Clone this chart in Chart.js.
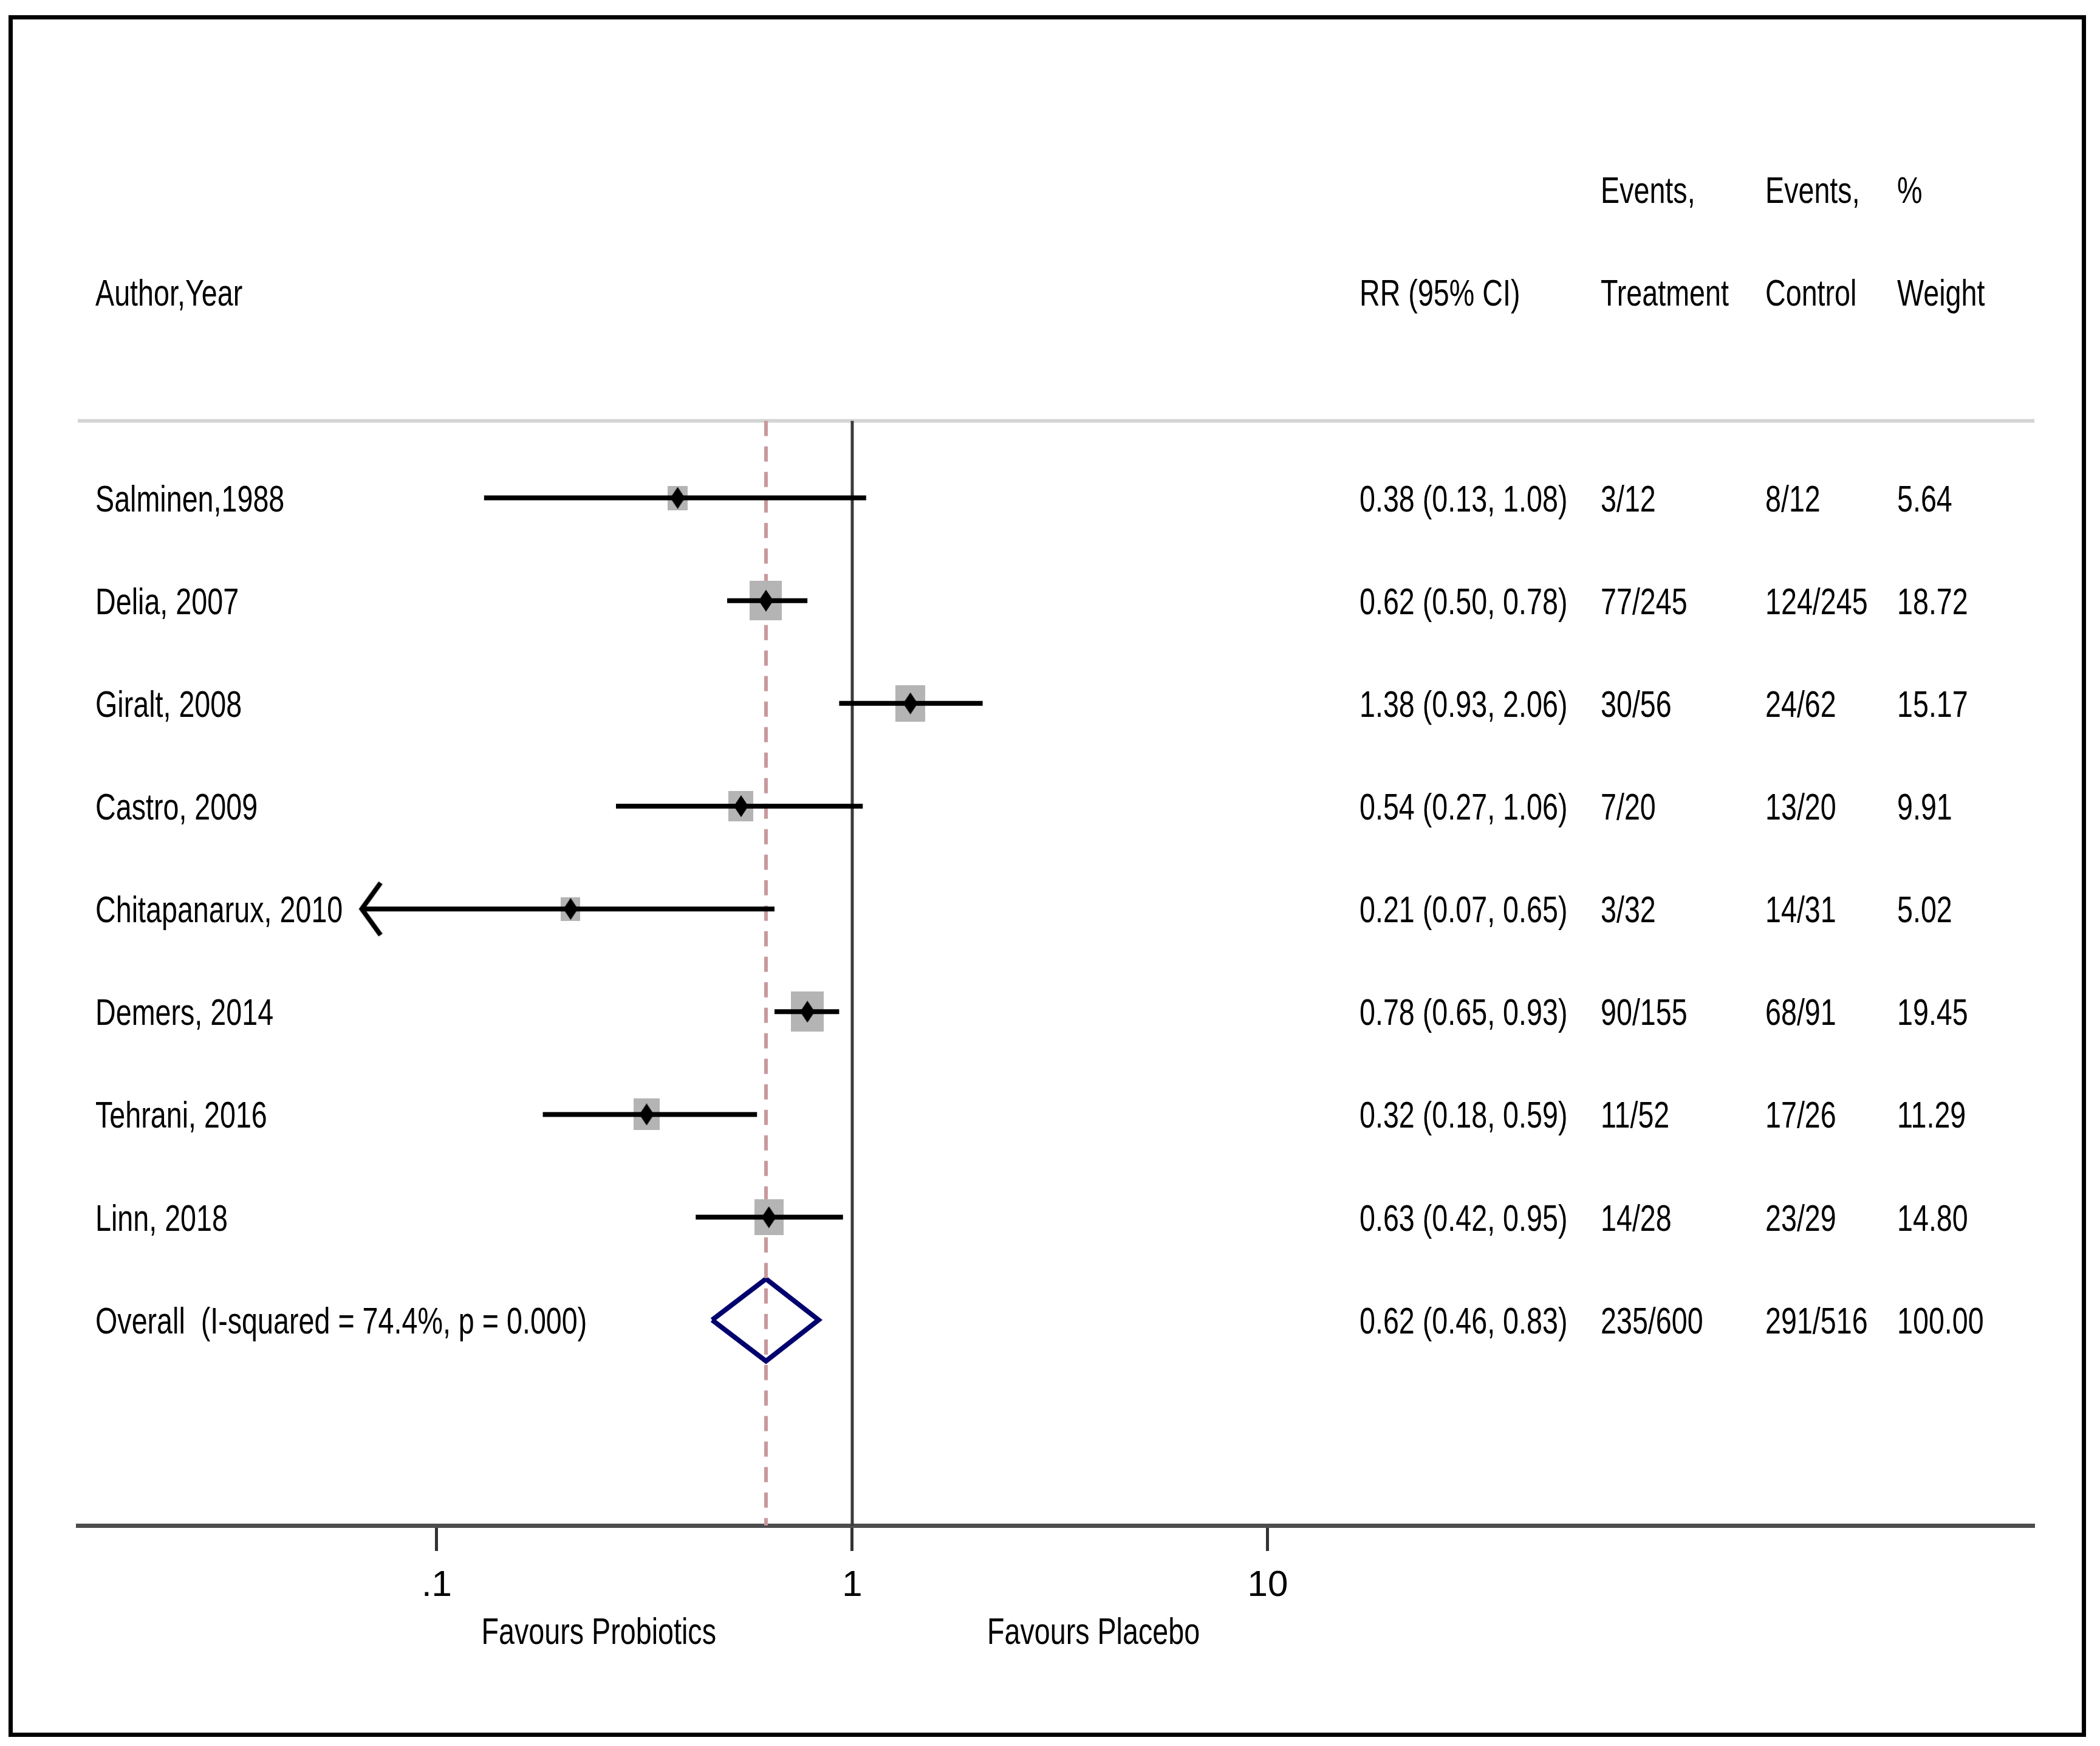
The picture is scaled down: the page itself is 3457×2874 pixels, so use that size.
<!DOCTYPE html>
<html>
<head>
<meta charset="utf-8">
<script src="https://cdn.jsdelivr.net/npm/chart.js@4.4.1/dist/chart.umd.min.js"></script>
<style>
  html, body { margin: 0; padding: 0; background: #fff; overflow: hidden; }
  #wrap { width: 3457px; height: 2874px; position: relative; }
</style>
</head>
<body>
<div id="wrap"><canvas id="forest"></canvas></div>
<script>
// study rows, top to bottom
const studies = ['Salminen,1988', 'Delia, 2007', 'Giralt, 2008', 'Castro, 2009',
    'Chitapanarux, 2010', 'Demers, 2014', 'Tehrani, 2016', 'Linn, 2018']
const rr = [0.38, 0.62, 1.38, 0.54, 0.21, 0.78, 0.32, 0.63]
const ciLow = [0.13, 0.50, 0.93, 0.27, 0.066, 0.65, 0.18, 0.42]
const ciHigh = [1.08, 0.78, 2.06, 1.06, 0.65, 0.93, 0.59, 0.95]
const eventsTreatment = ['3/12', '77/245', '30/56', '7/20', '3/32', '90/155', '11/52', '14/28']
const eventsControl = ['8/12', '124/245', '24/62', '13/20', '14/31', '68/91', '17/26', '23/29']
const weights = [5.64, 18.72, 15.17, 9.91, 5.02, 19.45, 11.29, 14.80]

// pooled estimate
const overallLabel = 'Overall  (I-squared = 74.4%, p = 0.000)'
const overallRR = 0.62
const overallLow = 0.46
const overallHigh = 0.83
const overallTreatment = '235/600'
const overallControl = '291/516'
const overallWeight = 100.00

// x axis
const xTicks = [0.1, 1, 10]
const xTickLabels = ['.1', '1', '10']
const xMin = 0.01368
const xMax = 699.8

const rows = studies.map((s, i) => i + 1)
const overallRow = studies.length + 1

const FONT = '"Liberation Sans", Arial, sans-serif'
const TICK_FONT = '"Liberation Sans Narrow", "Arial Narrow", "Liberation Sans", sans-serif'

// marker images (canvas point styles)
function boxImage(w) {
    const bw = Math.round(9.4 + 10.1 * Math.sqrt(w))
    const bh = Math.round(bw * 1.22)
    const c = document.createElement('canvas')
    c.width = bw
    c.height = bh
    const g = c.getContext('2d')
    g.fillStyle = '#b4b4b4'
    g.fillRect(0, 0, bw, bh)
    return c
}

function diamondImage() {
    const c = document.createElement('canvas')
    c.width = 24
    c.height = 36
    const g = c.getContext('2d')
    g.fillStyle = '#000'
    g.beginPath()
    g.moveTo(12, 0); g.lineTo(24, 18); g.lineTo(12, 36); g.lineTo(0, 18)
    g.closePath()
    g.fill()
    return c
}

function arrowImage() {
    // tip sits at the centre of the image
    const c = document.createElement('canvas')
    c.width = 84
    c.height = 104
    const g = c.getContext('2d')
    g.strokeStyle = '#000'
    g.lineWidth = 8
    g.beginPath()
    g.moveTo(42 + 31, 52 - 43); g.lineTo(42, 52); g.lineTo(42 + 31, 52 + 43)
    g.stroke()
    return c
}

const ciSets = studies.map((s, i) => ({
    type: 'line',
    data: [{ x: ciLow[i], y: rows[i] }, { x: ciHigh[i], y: rows[i] }],
    borderColor: '#000',
    borderWidth: 8,
    pointRadius: 0,
    order: 1
}))

// arrow where the CI runs past the lowest tick
const offScale = studies.map((s, i) => i).filter(i => ciLow[i] < xTicks[0])

const datasets = [
    ...ciSets,
    {
        type: 'scatter',
        data: rows.map((r, i) => ({ x: rr[i], y: r })),
        pointStyle: weights.map(w => boxImage(w)),
        order: 2
    },
    {
        type: 'scatter',
        data: rows.map((r, i) => ({ x: rr[i], y: r })),
        pointStyle: diamondImage(),
        order: 0
    },
    {
        type: 'scatter',
        data: offScale.map(i => ({ x: ciLow[i], y: rows[i] })),
        pointStyle: arrowImage(),
        order: 0
    },
    {
        type: 'line',
        data: [
            { x: overallLow, y: overallRow },
            { x: overallRR, y: overallRow - 0.4 },
            { x: overallHigh, y: overallRow },
            { x: overallRR, y: overallRow + 0.4 },
            { x: overallLow, y: overallRow }
        ],
        borderColor: '#00006e',
        borderWidth: 8,
        borderJoinStyle: 'miter',
        pointRadius: 0,
        order: 4
    },
    {
        type: 'line',
        data: [{ x: overallRR, y: 0.25 }, { x: overallRR, y: 11 }],
        borderColor: '#c9999d',
        borderWidth: 6,
        borderDash: [25, 17],
        pointRadius: 0,
        order: 3
    },
    {
        type: 'line',
        data: [{ x: 1, y: 0.25 }, { x: 1, y: 11 }],
        borderColor: '#3a3a3a',
        borderWidth: 5,
        pointRadius: 0,
        order: 5
    },
    {
        type: 'line',
        data: [{ x: xMin, y: 0.25 }, { x: xMax, y: 0.25 }],
        borderColor: '#d4d4d4',
        borderWidth: 6,
        pointRadius: 0,
        order: 6
    }
]

function txt(ctx, s, x, y, align) {
    ctx.save()
    ctx.translate(x, y)
    ctx.scale(0.765, 1)
    ctx.textAlign = align || 'left'
    ctx.fillText(s, 0, 0)
    ctx.restore()
}

// table text, favours labels and the frame
const tablePlugin = {
    id: 'table',
    beforeDraw(chart) {
        const ctx = chart.ctx
        ctx.save()
        ctx.fillStyle = '#fff'
        ctx.fillRect(0, 0, chart.width, chart.height)
        ctx.restore()
    },
    afterDraw(chart) {
        const ctx = chart.ctx
        const ys = chart.scales.y
        const xs = chart.scales.x
        const base = r => ys.getPixelForValue(r) + 22
        const colAuthor = 157, colRR = 2238, colT = 2635, colC = 2906, colW = 3123

        ctx.save()
        ctx.fillStyle = '#000'
        ctx.font = '61px ' + FONT
        ctx.textBaseline = 'alphabetic'

        txt(ctx, 'Events,', colT, base(-2))
        txt(ctx, 'Events,', colC, base(-2))
        txt(ctx, '%', colW, base(-2))
        txt(ctx, 'Author,Year', colAuthor, base(-1))
        txt(ctx, 'RR (95% CI)', colRR, base(-1))
        txt(ctx, 'Treatment', colT, base(-1))
        txt(ctx, 'Control', colC, base(-1))
        txt(ctx, 'Weight', colW, base(-1))

        studies.forEach((s, i) => {
            const y = base(rows[i])
            txt(ctx, s, colAuthor, y)
            txt(ctx, `${rr[i].toFixed(2)} (${ciLow[i].toFixed(2)}, ${ciHigh[i].toFixed(2)})`, colRR, y)
            txt(ctx, eventsTreatment[i], colT, y)
            txt(ctx, eventsControl[i], colC, y)
            txt(ctx, weights[i].toFixed(2), colW, y)
        })

        const yo = base(overallRow)
        txt(ctx, overallLabel, colAuthor, yo)
        txt(ctx, `${overallRR.toFixed(2)} (${overallLow.toFixed(2)}, ${overallHigh.toFixed(2)})`, colRR, yo)
        txt(ctx, overallTreatment, colT, yo)
        txt(ctx, overallControl, colC, yo)
        txt(ctx, overallWeight.toFixed(2), colW, yo)

        const x1 = xs.getPixelForValue(1)
        txt(ctx, 'Favours Probiotics', x1 - 224, 2706, 'right')
        txt(ctx, 'Favours Placebo', x1 + 222, 2706, 'left')

        // outer frame
        ctx.strokeStyle = '#000'
        ctx.lineWidth = 7
        ctx.strokeRect(17.5, 28.5, 3413, 2827)
        ctx.restore()
    }
}

const config = {
    type: 'scatter',
    data: { datasets: datasets },
    options: {
        responsive: true,
        maintainAspectRatio: false,
        animation: false,
        layout: {
            padding: { left: 128, right: 108, top: 143, bottom: 63 }
        },
        plugins: {
            legend: { display: false },
            tooltip: { enabled: false }
        },
        scales: {
            x: {
                type: 'logarithmic',
                position: 'bottom',
                min: xMin,
                max: xMax,
                afterBuildTicks: scale => {
                    scale.ticks = xTicks.map(v => ({ value: v }))
                },
                afterFit: scale => {
                    scale.height = 300
                },
                border: { display: true, color: '#4d4d4d', width: 7 },
                grid: {
                    display: true,
                    drawOnChartArea: false,
                    drawTicks: true,
                    tickLength: 42,
                    tickWidth: 5,
                    tickColor: '#333'
                },
                ticks: {
                    autoSkip: false,
                    maxRotation: 0,
                    padding: 21,
                    color: '#000',
                    font: { family: TICK_FONT, size: 60 },
                    callback: value => {
                        const k = xTicks.findIndex(t => Math.abs(t - value) < 1e-9)
                        return k >= 0 ? xTickLabels[k] : ''
                    }
                }
            },
            y: {
                type: 'linear',
                display: false,
                reverse: true,
                min: -3,
                max: 11
            }
        }
    },
    plugins: [tablePlugin]
}

new Chart(document.getElementById('forest'), config)
</script>
</body>
</html>
